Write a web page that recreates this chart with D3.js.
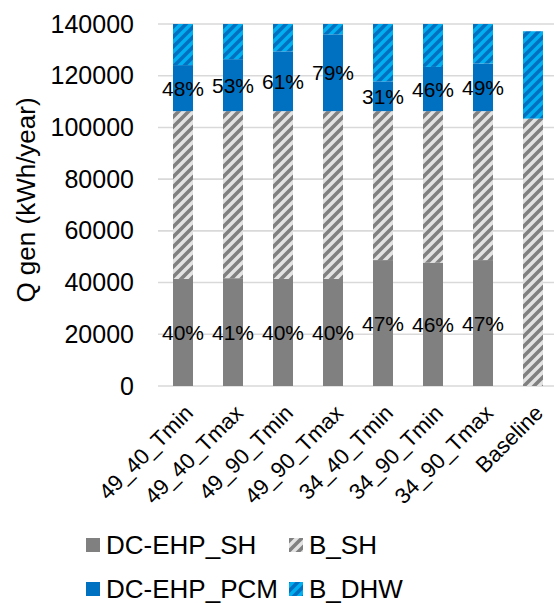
<!DOCTYPE html>
<html><head><meta charset="utf-8">
<script src="https://cdn.jsdelivr.net/npm/d3@7/dist/d3.min.js"></script>
<style>
body{margin:0;background:#fff;}
text{font-family:"Liberation Sans",Arial,sans-serif;fill:#000;}
</style></head>
<body>
<svg id="c" width="554" height="603"></svg>
<script>
const categories = ["49_40_Tmin","49_40_Tmax","49_90_Tmin","49_90_Tmax","34_40_Tmin","34_90_Tmin","34_90_Tmax","Baseline"];
const dcEhpSH  = [41400, 41700, 41400, 41400, 48700, 47700, 48700, 0];
const bSH      = [64900, 64600, 64900, 64900, 57600, 58600, 57600, 103400];
const dcEhpPCM = [17800, 20100, 23100, 29700, 11500, 17100, 18400, 0];
const bDHW     = [19300, 17700, 14700, 7800, 25500, 20000, 19000, 33800];
const pctSH    = ["40%","41%","40%","40%","47%","46%","47%",""];
const pctPCM   = ["48%","53%","61%","79%","31%","46%","49%",""];
const yTicks   = [0,20000,40000,60000,80000,100000,120000,140000];
const seriesNames = ["DC-EHP_SH","B_SH","DC-EHP_PCM","B_DHW"];

const svg = d3.select("#c");
const defs = svg.append("defs");
function pat(id, bg, fg){
  const p = defs.append("pattern").attr("id",id).attr("patternUnits","userSpaceOnUse")
    .attr("width",10).attr("height",10);
  p.append("rect").attr("width",10).attr("height",10).attr("fill",bg);
  p.append("path").attr("d","M-2.5,2.5 L2.5,-2.5 M-2.5,12.5 L12.5,-2.5 M7.5,12.5 L12.5,7.5")
    .attr("stroke",fg).attr("stroke-width",3.6);
}
pat("pSH","#e3e3e3","#808080");
pat("pDHW","#00b0f0","#0070c0");
const fills = ["#808080","url(#pSH)","#0070c0","url(#pDHW)"];

const x = d3.scaleBand().domain(categories).range([158,558]).paddingInner(0.6).paddingOuter(0.3);
const y = d3.scaleLinear().domain([0,140000]).range([386,24]);

// gridlines
svg.append("g").selectAll("line").data(yTicks).join("line")
  .attr("x1",158).attr("x2",558).attr("y1",d=>y(d)).attr("y2",d=>y(d))
  .attr("stroke","#d9d9d9").attr("stroke-width",1.6);

// y axis labels
const yAxis = d3.axisLeft(y).tickValues(yTicks).tickSize(0).tickPadding(0).tickFormat(d3.format("d"));
const ga = svg.append("g").attr("transform","translate(134,0)").call(yAxis);
ga.select(".domain").remove();
ga.selectAll("text").style("font-size","25px").attr("font-family","Liberation Sans, Arial, sans-serif").attr("fill","#000");

// y title
svg.append("text").attr("transform","translate(35,200) rotate(-90)").attr("text-anchor","middle")
  .style("font-size","26px").text("Q gen (kWh/year)");

// stacks
defs.append("clipPath").attr("id","clip").append("rect").attr("x",150).attr("y",24).attr("width",420).attr("height",370);
const rows = categories.map((c,i)=>({cat:c, s0:dcEhpSH[i], s1:bSH[i], s2:dcEhpPCM[i], s3:bDHW[i]}));
const stack = d3.stack().keys(["s0","s1","s2","s3"])(rows);
const gb = svg.append("g").attr("clip-path","url(#clip)");
stack.forEach((layer,k)=>{
  gb.append("g").selectAll("rect").data(layer).join("rect")
    .attr("x",d=>x(d.data.cat)).attr("width",x.bandwidth())
    .attr("y",d=>y(d[1])).attr("height",d=>Math.max(0,y(d[0])-y(d[1])))
    .attr("fill",fills[k]);
});

// data labels
const lab = svg.append("g").style("font-size","21px").attr("text-anchor","middle");
stack[0].forEach((d,i)=>{ if(pctSH[i]) lab.append("text").attr("x",x(d.data.cat)+x.bandwidth()/2)
  .attr("y",(y(d[0])+y(d[1]))/2).attr("dy","0.36em").text(pctSH[i]); });
stack[2].forEach((d,i)=>{ if(pctPCM[i]) lab.append("text").attr("x",x(d.data.cat)+x.bandwidth()/2)
  .attr("y",(y(d[0])+y(d[1]))/2).attr("dy","0.36em").text(pctPCM[i]); });

// x labels
const gx = svg.append("g");
categories.forEach(c=>{
  gx.append("text").attr("text-anchor","end")
    .attr("transform",`translate(${x(c)+x.bandwidth()/2+6},${409}) rotate(-45)`)
    .style("font-size","22px").attr("dy","0.35em").text(c);
});

// legend
const legPos = [[86,545],[289,545],[86,589],[289,589]];
seriesNames.forEach((n,k)=>{
  const [lx,ly] = legPos[k];
  svg.append("rect").attr("x",lx).attr("y",ly-7).attr("width",14).attr("height",14).attr("fill",fills[k]);
  svg.append("text").attr("x",lx+20).attr("y",ly).attr("dy","0.36em").style("font-size","26px").text(n);
});
</script>
</body></html>
